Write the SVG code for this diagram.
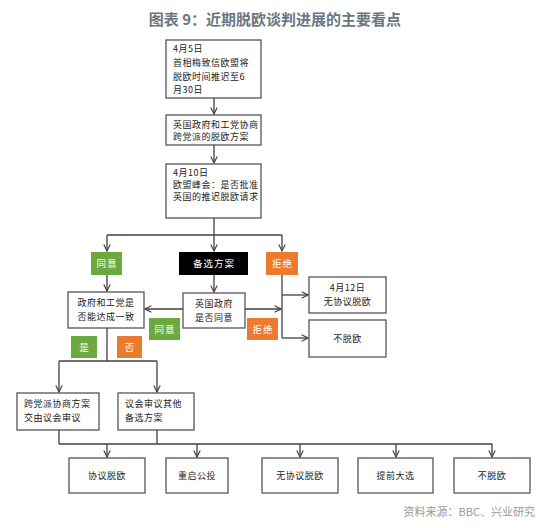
<svg xmlns="http://www.w3.org/2000/svg" width="550" height="528" viewBox="0 0 550 528">
<defs>
<marker id="arr" viewBox="0 0 10 10" refX="9" refY="5" markerWidth="8" markerHeight="8" orient="auto" markerUnits="userSpaceOnUse">
<path d="M1,1 L9,5 L1,9" fill="none" stroke="#404040" stroke-width="1.4"/>
</marker>
<style>
.box{fill:#fff;stroke:#555;stroke-width:1.3}
.t{font-family:"Noto Sans CJK SC","Liberation Serif",serif;font-size:9px;letter-spacing:0.5px;fill:#222}
.c{text-anchor:middle}
.lab{font-family:"Noto Sans CJK SC",sans-serif;font-size:9.5px;letter-spacing:1px;fill:#fff;text-anchor:middle}
.green{fill:#6aaa3e}
.orange{fill:#ec7b30}
.ln{fill:none;stroke:#404040;stroke-width:1.3}
</style>
</defs>
<rect width="550" height="528" fill="#fff"/>
<text x="275" y="25" text-anchor="middle" font-family="'Noto Sans CJK SC',sans-serif" font-size="15" font-weight="bold" fill="#6b7680">图表 9：近期脱欧谈判进展的主要看点</text>

<g id="connectors">
<path class="ln" d="M214,98 V114" marker-end="url(#arr)"/>
<path class="ln" d="M214,145 V163" marker-end="url(#arr)"/>
<path class="ln" d="M214,218 V235"/>
<path class="ln" d="M107,235 H282"/>
<path class="ln" d="M107,235 V251" marker-end="url(#arr)"/>
<path class="ln" d="M214,235 V251" marker-end="url(#arr)"/>
<path class="ln" d="M282,235 V251" marker-end="url(#arr)"/>
<path class="ln" d="M107,275 V291" marker-end="url(#arr)"/>
<path class="ln" d="M214,275 V292" marker-end="url(#arr)"/>
<path class="ln" d="M183,309 H145" marker-end="url(#arr)"/>
<path class="ln" d="M245,309 H281" marker-end="url(#arr)"/>
<path class="ln" d="M282,275 V338"/>
<path class="ln" d="M282,295 H308" marker-end="url(#arr)"/>
<path class="ln" d="M282,338 H308" marker-end="url(#arr)"/>
<path class="ln" d="M107,328 V361"/>
<path class="ln" d="M59,361 H157"/>
<path class="ln" d="M59,361 V392" marker-end="url(#arr)"/>
<path class="ln" d="M157,361 V392" marker-end="url(#arr)"/>
<path class="ln" d="M59,430 V444"/>
<path class="ln" d="M157,430 V444"/>
<path class="ln" d="M59,444 H492"/>
<path class="ln" d="M107,444 V457" marker-end="url(#arr)"/>
<path class="ln" d="M197,444 V457" marker-end="url(#arr)"/>
<path class="ln" d="M300,444 V457" marker-end="url(#arr)"/>
<path class="ln" d="M396,444 V457" marker-end="url(#arr)"/>
<path class="ln" d="M492,444 V457" marker-end="url(#arr)"/>
</g>

<g id="n1"><rect class="box" x="166" y="40" width="95" height="58"/>
<text class="t" x="173" y="52">4月5日</text>
<text class="t" x="173" y="66">首相梅致信欧盟将</text>
<text class="t" x="173" y="80">脱欧时间推迟至6</text>
<text class="t" x="173" y="93">月30日</text></g>

<g id="n2"><rect class="box" x="166" y="115" width="95" height="30"/>
<text class="t" x="173" y="128">英国政府和工党协商</text>
<text class="t" x="173" y="140">跨党派的脱欧方案</text></g>

<g id="n3"><rect class="box" x="166" y="164" width="95" height="54"/>
<text class="t" x="173" y="176">4月10日</text>
<text class="t" x="173" y="188">欧盟峰会：是否批准</text>
<text class="t" x="173" y="200">英国的推迟脱欧请求</text></g>

<g id="l-agree1"><rect class="green" x="91" y="252" width="31" height="23"/><text class="lab" x="107" y="267">同意</text></g>
<g id="l-alt"><rect fill="#000" x="179" y="252" width="69" height="23"/><text class="lab" x="214" y="267">备选方案</text></g>
<g id="l-reject1"><rect class="orange" x="266" y="252" width="32" height="23"/><text class="lab" x="282.5" y="267">拒绝</text></g>

<g id="n4"><rect class="box" x="68" y="292" width="76" height="36"/>
<text class="t c" x="106" y="306">政府和工党是</text>
<text class="t c" x="106" y="320">否能达成一致</text></g>

<g id="n5"><rect class="box" x="183" y="293" width="62" height="35"/>
<text class="t c" x="214" y="307">英国政府</text>
<text class="t c" x="214" y="321">是否同意</text></g>

<g id="l-agree2"><rect class="green" x="149" y="318" width="31" height="22"/><text class="lab" x="165" y="332.5">同意</text></g>
<g id="l-reject2"><rect class="orange" x="247" y="318" width="31" height="22"/><text class="lab" x="263" y="332.5">拒绝</text></g>

<g id="n6"><rect class="box" x="309" y="277" width="77" height="36"/>
<text class="t c" x="347.5" y="291">4月12日</text>
<text class="t c" x="347.5" y="305">无协议脱欧</text></g>

<g id="n7"><rect class="box" x="309" y="320" width="77" height="37"/>
<text class="t c" x="347.5" y="341.5">不脱欧</text></g>

<g id="l-yes"><rect class="green" x="71" y="336" width="26" height="22"/><text class="lab" x="84.5" y="350.5">是</text></g>
<g id="l-no"><rect class="orange" x="117" y="336" width="25" height="22"/><text class="lab" x="130" y="350.5">否</text></g>

<g id="n8"><rect class="box" x="17" y="393" width="82" height="37"/>
<text class="t" x="24" y="407">跨党派协商方案</text>
<text class="t" x="24" y="421">交由议会审议</text></g>

<g id="n9"><rect class="box" x="118" y="393" width="76" height="37"/>
<text class="t" x="125" y="407">议会审议其他</text>
<text class="t" x="125" y="421">备选方案</text></g>

<g id="o1"><rect class="box" x="69" y="458" width="76" height="35"/><text class="t c" x="107" y="478.5">协议脱欧</text></g>
<g id="o2"><rect class="box" x="166" y="458" width="62" height="35"/><text class="t c" x="197" y="478.5">重启公投</text></g>
<g id="o3"><rect class="box" x="262" y="458" width="76" height="35"/><text class="t c" x="300" y="478.5">无协议脱欧</text></g>
<g id="o4"><rect class="box" x="358" y="458" width="75" height="35"/><text class="t c" x="395.5" y="478.5">提前大选</text></g>
<g id="o5"><rect class="box" x="454" y="458" width="76" height="35"/><text class="t c" x="492" y="478.5">不脱欧</text></g>

<text x="535" y="516" text-anchor="end" font-family="'Noto Sans CJK SC',sans-serif" font-size="11" fill="#999">资料来源：BBC、兴业研究</text>
</svg>
